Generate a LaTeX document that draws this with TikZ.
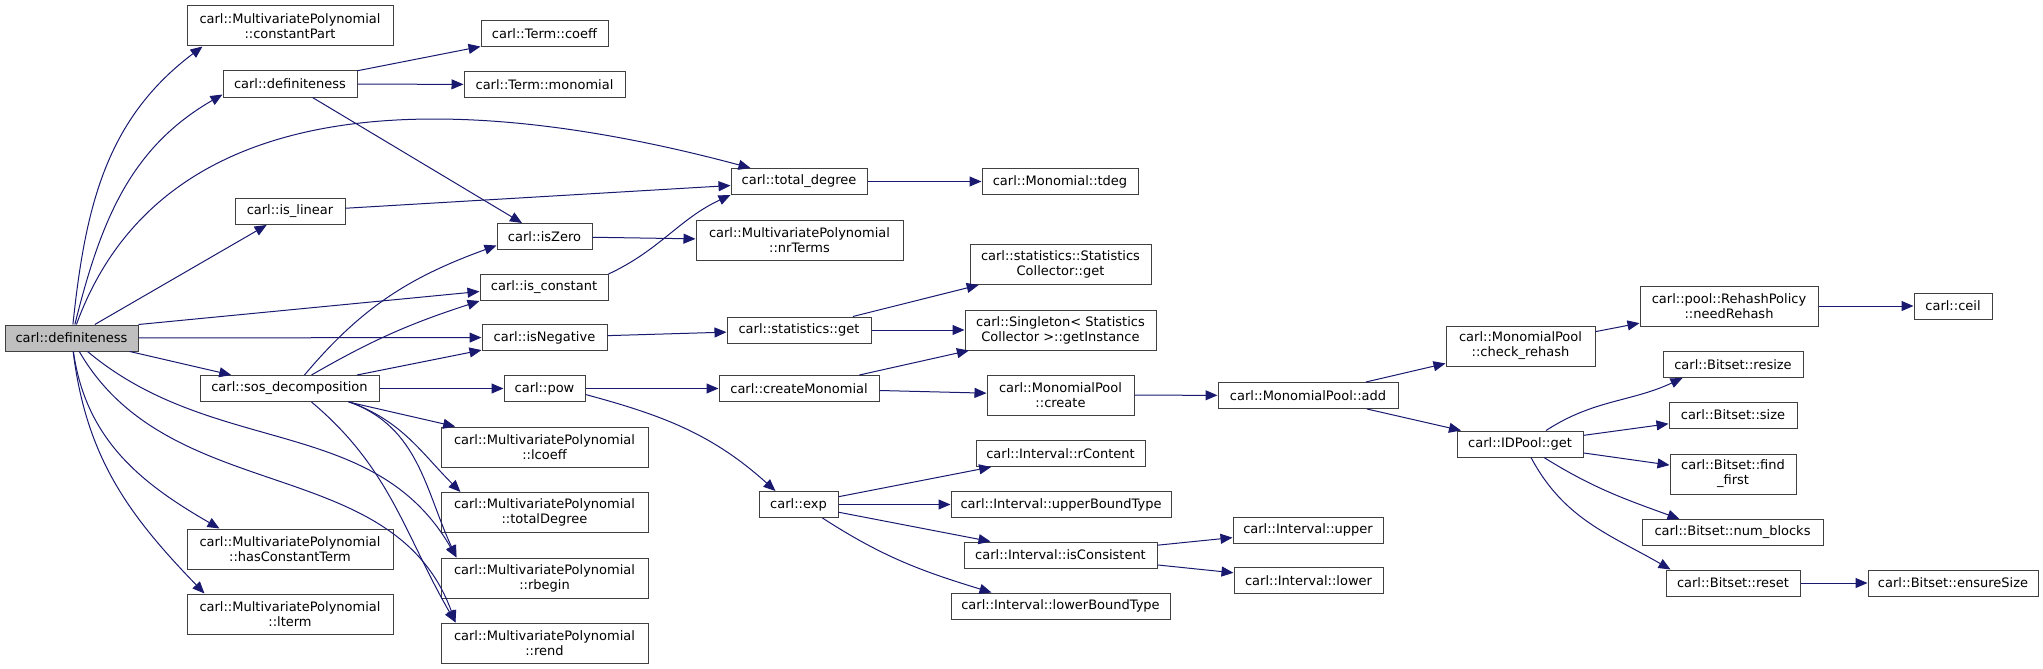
\documentclass[tikz,border=0pt]{standalone}
\usepackage{fontspec}
\setmainfont{DejaVu Sans}
\usetikzlibrary{arrows.meta}
\definecolor{edgeblue}{HTML}{191970}
\definecolor{rim}{HTML}{404040}
\definecolor{rootgray}{HTML}{BFBFBF}

\begin{document}
\begin{tikzpicture}[x=1pt, y=1pt, line width=1pt, >={Triangle[length=12pt,width=10pt]},
  func/.style = {draw=rim, fill=white, rectangle, inner sep=0pt, minimum height=26pt, align=center, font=\fontsize{13}{15}\selectfont},
  pair/.style = {func, minimum height=40pt},
  root/.style = {func, fill=rootgray},
  call/.style = {->, draw=edgeblue}]
	\useasboundingbox (0,0) rectangle (2043,-669);
	\node[root, minimum width=133] (1) at (71.5,-338) {carl::definiteness};
	\node[pair, minimum width=206] (2) at (290,-26) {carl::MultivariatePolynomial\\::constantPart};
	\node[func, minimum width=134] (3) at (290,-84) {carl::definiteness};
	\node[func, minimum width=110] (4) at (290,-211.5) {carl::is\_linear};
	\node[func, minimum width=128] (5) at (544,-287.5) {carl::is\_constant};
	\node[func, minimum width=125] (6) at (544.5,-337.5) {carl::isNegative};
	\node[func, minimum width=179] (7) at (289.5,-388.5) {carl::sos\_decomposition};
	\node[pair, minimum width=206] (8) at (290,-549) {carl::MultivariatePolynomial\\::hasConstantTerm};
	\node[pair, minimum width=206] (9) at (290,-614) {carl::MultivariatePolynomial\\::lterm};
	\node[func, minimum width=95] (10) at (544.5,-236.5) {carl::isZero};
	\node[func, minimum width=127] (11) at (544.5,-34) {carl::Term::coeff};
	\node[func, minimum width=161] (12) at (544.5,-84.5) {carl::Term::monomial};
	\node[func, minimum width=136] (13) at (799,-181.5) {carl::total\_degree};
	\node[pair, minimum width=207] (14) at (799.5,-240.5) {carl::MultivariatePolynomial\\::nrTerms};
	\node[func, minimum width=81] (15) at (544.5,-388.5) {carl::pow};
	\node[pair, minimum width=207] (16) at (544.5,-447) {carl::MultivariatePolynomial\\::lcoeff};
	\node[pair, minimum width=207] (17) at (544.5,-512.5) {carl::MultivariatePolynomial\\::totalDegree};
	\node[pair, minimum width=207] (18) at (544.5,-578) {carl::MultivariatePolynomial\\::rbegin};
	\node[pair, minimum width=207] (19) at (544.5,-643) {carl::MultivariatePolynomial\\::rend};
	\node[func, minimum width=156] (20) at (1060,-181.5) {carl::Monomial::tdeg};
	\node[func, minimum width=144] (21) at (799,-330) {carl::statistics::get};
	\node[pair, minimum width=181] (22) at (1060.5,-264.5) {carl::statistics::Statistics\\Collector::get};
	\node[pair, minimum width=191] (23) at (1060.5,-330) {carl::Singleton< Statistics\\Collector >::getInstance};
	\node[func, minimum width=160] (24) at (799,-388.5) {carl::createMonomial};
	\node[func, minimum width=79] (25) at (798.5,-504.5) {carl::exp};
	\node[pair, minimum width=147] (26) at (1060.5,-395) {carl::MonomialPool\\::create};
	\node[func, minimum width=169] (27) at (1060.5,-453.5) {carl::Interval::rContent};
	\node[func, minimum width=220] (28) at (1061,-504.5) {carl::Interval::upperBoundType};
	\node[func, minimum width=193] (29) at (1060.5,-555) {carl::Interval::isConsistent};
	\node[func, minimum width=219] (30) at (1060.5,-606) {carl::Interval::lowerBoundType};
	\node[func, minimum width=180] (31) at (1308,-395.5) {carl::MonomialPool::add};
	\node[func, minimum width=150] (32) at (1308,-530) {carl::Interval::upper};
	\node[func, minimum width=149] (33) at (1308.5,-580.5) {carl::Interval::lower};
	\node[pair, minimum width=149] (34) at (1520.5,-346) {carl::MonomialPool\\::check\_rehash};
	\node[func, minimum width=126] (35) at (1520,-444) {carl::IDPool::get};
	\node[pair, minimum width=178] (36) at (1729,-306) {carl::pool::RehashPolicy\\::needRehash};
	\node[func, minimum width=78] (37) at (1953,-306) {carl::ceil};
	\node[func, minimum width=140] (38) at (1733,-364.5) {carl::Bitset::resize};
	\node[func, minimum width=128] (39) at (1733,-415) {carl::Bitset::size};
	\node[pair, minimum width=126] (40) at (1733,-474) {carl::Bitset::find\\\_first};
	\node[func, minimum width=181] (41) at (1732.5,-532.5) {carl::Bitset::num\_blocks};
	\node[func, minimum width=134] (42) at (1733,-583) {carl::Bitset::reset};
	\node[func, minimum width=170] (43) at (1953,-583) {carl::Bitset::ensureSize};
	\draw[call] (1) to [out=84, in=-143] ([xshift=16pt]2.south west);
	\draw[call] (1) to [out=76, in=-150] ([yshift=3pt]3.south west);
	\draw[call] (1) to [out=70, in=165] ([xshift=20pt]13.north west);
	\draw[call] (1) -- (4);
	\draw[call] (1.north east) -- ([yshift=-4pt]5.west);
	\draw[call] (1) -- (6);
	\draw[call] (1) -- (7);
	\draw[call] (1) to [out=-82, in=150] ([xshift=33pt]8.north west);
	\draw[call] (1) to [out=-83, in=134] ([xshift=18pt]9.north west);
	\draw[call] (1) to [out=-40, in=120] ([xshift=16pt]18.north west);
	\draw[call] (1) to [out=-60, in=110] ([xshift=15pt]19.north west);
	\draw[call] ([xshift=15pt]7.north) to [out=50, in=-160] ([yshift=-9pt]10.west);
	\draw[call] ([xshift=22pt]7.north) to [out=30, in=-162] (5.south west);
	\draw[call] (7) -- (6);
	\draw[call] (7) -- (15);
	\draw[call] (7) -- (16);
	\draw[call] ([xshift=-30pt]7.south east) to [out=-20, in=135] ([xshift=20pt]17.north west);
	\draw[call] ([xshift=-30pt]7.south east) to [out=-20, in=115] ([xshift=16pt]18.north west);
	\draw[call] ([xshift=22pt]7.south) to [out=-40, in=120] ([xshift=15pt]19.north west);
	\draw[call] (3) -- (11);
	\draw[call] (3) -- (12);
	\draw[call] (3) -- (10);
	\draw[call] (4) -- (13);
	\draw[call] (5.north east) to [out=25, in=-155] (13.south west);
	\draw[call] (10) -- (14);
	\draw[call] (6) -- (21);
	\draw[call] (13) -- (20);
	\draw[call] (21) -- (22);
	\draw[call] (21) -- (23);
	\draw[call] (15) -- (24);
	\draw[call] ([yshift=-6pt]15.east) to [out=-15, in=138] ([xshift=17pt]25.north west);
	\draw[call] (24) -- (23);
	\draw[call] (24) -- (26);
	\draw[call] (26) -- (31);
	\draw[call] (31) -- (34);
	\draw[call] (31) -- (35);
	\draw[call] (34) -- (36);
	\draw[call] (36) -- (37);
	\draw[call] ([xshift=26pt]35.north) to [out=33, in=-155] ([xshift=20pt]38.south west);
	\draw[call] (35) -- (39);
	\draw[call] (35) -- (40);
	\draw[call] ([xshift=24pt]35.south) to [out=-32, in=160] ([xshift=38pt]41.north west);
	\draw[call] ([xshift=11pt]35.south) to [out=-62, in=150] ([xshift=5pt]42.north west);
	\draw[call] (42) -- (43);
	\draw[call] (25) -- (27);
	\draw[call] (25) -- (28);
	\draw[call] (25) -- (29);
	\draw[call] ([xshift=24pt]25.south) to [out=-33, in=163] ([xshift=41pt]30.north west);
	\draw[call] (29) -- (32);
	\draw[call] (29) -- (33);
\end{tikzpicture}
\end{document}
